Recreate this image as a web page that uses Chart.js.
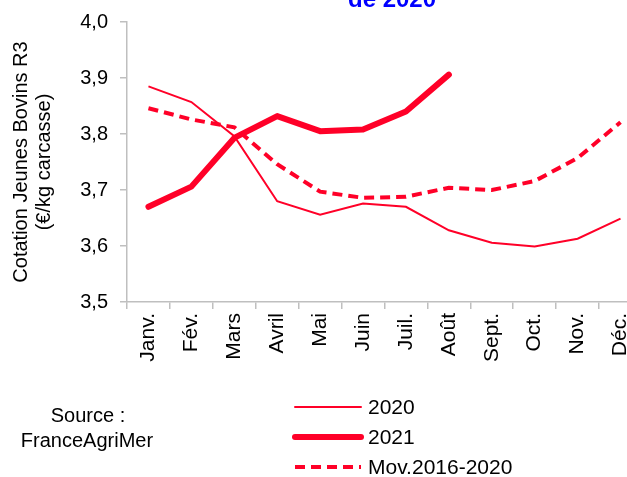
<!DOCTYPE html>
<html>
<head>
<meta charset="utf-8">
<script src="https://cdn.jsdelivr.net/npm/chart.js@4"></script>
<style>
  html, body { margin: 0; padding: 0; overflow: hidden; background: #fff; }
  #wrap { width: 650px; height: 477px; }
</style>
</head>
<body>
<div id="wrap"><canvas id="graph1" width="650" height="477"></canvas></div>
<script>
const mois = ['Janv.', 'Fév.', 'Mars', 'Avril', 'Mai', 'Juin', 'Juil.', 'Août', 'Sept.', 'Oct.', 'Nov.', 'Déc.'];
const cot2020 = [3.885, 3.857, 3.796, 3.680, 3.656, 3.676, 3.670, 3.628, 3.606, 3.599, 3.613, 3.649];
const cot2021 = [3.670, 3.706, 3.793, 3.832, 3.805, 3.808, 3.840, 3.906];
const moy1620 = [3.846, 3.826, 3.812, 3.746, 3.697, 3.686, 3.688, 3.704, 3.700, 3.716, 3.757, 3.821];
const rouge = '#FF0028';
const gris = '#BFBFBF';
const police = 'Arial, "Liberation Sans", sans-serif';

// titre coupé en haut, légende et source en bas
const extras = {
  id: 'extras',
  afterDraw(chart) {
    const ctx = chart.ctx;
    ctx.save();
    ctx.fillStyle = '#0000FF';
    ctx.font = 'bold 24px ' + police;
    ctx.textAlign = 'center';
    ctx.textBaseline = 'alphabetic';
    ctx.fillText('de 2020', 392, 7);

    ctx.fillStyle = '#000';
    ctx.font = '20px ' + police;
    ctx.textBaseline = 'middle';
    ctx.fillText('Source :', 88, 416);
    ctx.fillText('FranceAgriMer', 87, 441);

    const ys = [407, 437, 467];
    chart.data.datasets.forEach((ds, i) => {
      ctx.strokeStyle = ds.borderColor;
      ctx.lineWidth = ds.borderWidth;
      ctx.lineCap = ds.borderDash ? 'butt' : 'round';
      ctx.setLineDash(ds.borderDash || []);
      ctx.beginPath();
      ctx.moveTo(295, ys[i]);
      ctx.lineTo(361, ys[i]);
      ctx.stroke();
      ctx.setLineDash([]);
      ctx.fillStyle = '#000';
      ctx.textAlign = 'left';
      ctx.font = '21px ' + police;
      ctx.fillText(ds.label, 368, ys[i] + 1);
    });
    ctx.restore();
  }
};

new Chart(document.querySelector('#graph1'), {
  type: 'line',
  data: {
    labels: mois,
    datasets: [
      { label: '2020', data: cot2020, borderColor: rouge, borderWidth: 2, pointRadius: 0, tension: 0 },
      { label: '2021', data: cot2021, borderColor: rouge, borderWidth: 6, pointRadius: 0, tension: 0, borderCapStyle: 'round', borderJoinStyle: 'round' },
      { label: 'Mov.2016-2020', data: moy1620, borderColor: rouge, borderWidth: 4, borderDash: [10, 6], pointRadius: 0, tension: 0 }
    ]
  },
  options: {
    responsive: false,
    animation: false,
    layout: { padding: { top: 1, left: 0, right: 7, bottom: 104 } },
    plugins: { legend: { display: false }, tooltip: { enabled: false } },
    scales: {
      x: {
        offset: true,
        afterFit(scale) { scale.height = 71; },
        grid: { display: true, drawOnChartArea: false, offset: true, color: gris, lineWidth: 1.5, tickLength: 7 },
        border: { color: gris, width: 1.5 },
        ticks: { color: '#000', font: { size: 21, family: police }, maxRotation: 90, minRotation: 90, padding: 4, autoSkip: false }
      },
      y: {
        min: 3.5,
        max: 4.0,
        afterFit(scale) { scale.width = 127; },
        grid: { display: true, drawOnChartArea: false, color: gris, lineWidth: 1.5, tickLength: 7 },
        border: { color: gris, width: 1.5 },
        ticks: {
          stepSize: 0.1,
          color: '#000',
          font: { size: 20, family: police, lineHeight: 1.0 },
          padding: 12,
          callback: v => v.toFixed(1).replace('.', ',')
        },
        title: {
          display: true,
          text: ['Cotation Jeunes Bovins R3', '(€/kg carcasse)'],
          color: '#000',
          font: { size: 20, family: police, lineHeight: 1.15 },
          padding: { top: 10, bottom: 0 }
        }
      }
    }
  },
  plugins: [extras]
});
</script>
</body>
</html>
